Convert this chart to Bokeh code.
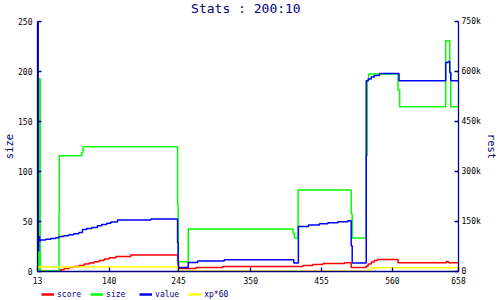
from bokeh.plotting import figure
from bokeh.models import Range1d, LinearAxis, FixedTicker, Legend, LegendItem, Label
from bokeh.layouts import column
from bokeh.embed import file_html
from bokeh.resources import INLINE

# ---- data ----
title_text = "Stats : 200:10"
x_tick_values = [33.8, 140, 243, 350, 455, 560, 658]
x_tick_labels = ["13", "140", "245", "350", "455", "560", "658"]
size_ticks = [0, 50, 100, 150, 200, 250]
rest_ticks = [0, 150000, 300000, 450000, 600000, 750000]
rest_tick_labels = ["0", "150k", "300k", "450k", "600k", "750k"]

score_x = [33.8, 68.2, 73.1, 80.5, 87.9, 95.4, 102.8, 110.2, 117.7, 125.1,
           132.5, 139.9, 149.9, 172.2, 241.5, 243.0, 268.7, 308.4, 427.2, 442.0,
           456.9, 489.0, 498.9, 521.2, 524.1, 528.6, 533.1, 537.6, 568.3, 640.1,
           643.1, 658]
score_y = [0, 1.7, 3, 4, 5, 6, 7.4, 8.4, 9.7, 11,
           12.4, 13.7, 15, 16.4, 10.7, 3, 4, 5, 6, 7,
           8, 8.7, 4, 5.5, 7.5, 9.5, 11, 12, 8.7, 10,
           8.7, 8.7]

size_x = [33.8, 35.5, 37.8, 65.7, 66.0, 99.4, 101.3, 241.5, 242.4, 257.3,
          412.8, 414.7, 420.2, 498.9, 500.4, 521.2, 522.7, 524.6, 568.3, 570.7,
          639.0, 645.0, 646.5, 658]
size_y = [0.5, 192.7, 0.5, 58, 115.7, 119, 124.7, 67, 9.7, 42.4,
          38, 33.4, 81.4, 57.4, 33.4, 115.7, 190.7, 197.4, 181.4, 164.7,
          230.7, 199, 164.7, 164.7]

value_x = [33.8, 34.8, 35.5, 37.0, 38.5, 45.9, 53.4, 60.8, 65.7, 72.7,
           80.1, 87.5, 95.0, 100.4, 106.8, 114.2, 122.7, 129.1, 136.5, 142.5,
           152.4, 201.9, 241.5, 242.4, 257.3, 271.2, 310.7, 413.8, 420.6, 435.5,
           451.8, 464.3, 479.2, 494.0, 498.9, 500.4, 521.2, 524.1, 528.6, 533.1,
           540.9, 569.8, 639.0, 642.6, 645.0, 646.5, 658]
value_y = [780000, 62100, 104100, 92100, 94200, 96600, 99000, 101400, 105000, 107400,
           110400, 113400, 117000, 126000, 129000, 132000, 137100, 141000, 144900, 148200,
           154200, 157200, 87000, 12000, 27000, 31200, 35100, 25200, 135000, 139200,
           143100, 146100, 149100, 152100, 77100, 25200, 572100, 577500, 583500, 588000,
           594000, 572100, 627000, 630000, 597000, 572100, 572100]

xp_x = [33.8, 34.5, 241.5, 523.7, 526.1, 528.6, 658]
xp_y = [0, 4.4, 0.5, 1.5, 2.6, 3.7, 3.7]

series_names = ["score", "size", "value", "xp*60"]
series_colors = ["#FF0000", "#00FF00", "#0000FF", "#FFFF00"]

NAVY = "#000080"
MONO = "DejaVu Sans Mono"


def strip(height):
    s = figure(width=500, height=height, output_backend="svg", toolbar_location=None,
               x_range=Range1d(0, 500), y_range=Range1d(0, height),
               min_border_left=0, min_border_right=0, min_border_top=0, min_border_bottom=0,
               x_axis_location=None, y_axis_location=None)
    s.grid.visible = False
    s.outline_line_color = None
    s.background_fill_color = "white"
    s.border_fill_color = "white"
    return s


# ---- title strip ----
top = strip(16)
top.add_layout(Label(x=247.5, y=8.0, text=title_text, text_align="center",
                     text_baseline="middle", text_font=MONO, text_font_size="13px",
                     text_color=NAVY))

# ---- main chart ----
p = figure(width=500, height=270, output_backend="svg", toolbar_location=None,
           x_range=Range1d(33.8, 658), y_range=Range1d(0, 250),
           min_border_left=37, min_border_right=42, min_border_top=5, min_border_bottom=15)
p.extra_y_ranges = {"rest": Range1d(0, 750000)}
p.grid.visible = False
p.outline_line_color = None
p.background_fill_color = "white"
p.border_fill_color = "white"

raxis = LinearAxis(y_range_name="rest", ticker=FixedTicker(ticks=rest_ticks),
                   major_label_overrides=dict(zip(rest_ticks, rest_tick_labels)),
                   axis_label="rest")
p.add_layout(raxis, "right")

p.xaxis.ticker = FixedTicker(ticks=x_tick_values)
p.xaxis.major_label_overrides = dict(zip(x_tick_values, x_tick_labels))
p.yaxis[0].ticker = FixedTicker(ticks=size_ticks)
p.yaxis[0].axis_label = "size"

for ax in [p.xaxis[0], p.yaxis[0], raxis]:
    ax.axis_line_color = NAVY
    ax.axis_line_width = 1.3
    ax.major_tick_line_color = NAVY
    ax.major_tick_line_width = 1.3
    ax.major_tick_in = 4
    ax.major_tick_out = 0
    ax.minor_tick_line_color = None
    ax.major_label_text_font = MONO
    ax.major_label_text_font_size = "8px"
    ax.major_label_text_color = "black"
    ax.axis_label_text_font = MONO
    ax.axis_label_text_font_size = "10.5px"
    ax.axis_label_text_font_style = "normal"
    ax.axis_label_text_color = NAVY
p.xaxis.major_label_standoff = 5
p.yaxis[0].major_label_standoff = 5
raxis.major_label_standoff = 3
p.yaxis[0].axis_label_standoff = 0
raxis.axis_label_standoff = 2

lw = 1.5
p.step(score_x, score_y, mode="after", line_color=series_colors[0], line_width=lw)
p.step(size_x, size_y, mode="after", line_color=series_colors[1], line_width=lw)
p.step(value_x, value_y, mode="after", line_color=series_colors[2], line_width=lw,
       y_range_name="rest")
p.step(xp_x, xp_y, mode="after", line_color=series_colors[3], line_width=lw)

# ---- legend strip ----
lg = strip(14)
nan = float("nan")
items = []
for name, color in zip(series_names, series_colors):
    proxy = lg.line([nan], [nan], line_color=color, line_width=2.5)
    items.append(LegendItem(label=name, renderers=[proxy]))
legend = Legend(items=items, location=(4, 1.5), orientation="horizontal",
                glyph_width=13, glyph_height=8, label_height=8, label_width=24,
                label_standoff=3, padding=0, margin=0, spacing=9,
                border_line_color=None, background_fill_alpha=0,
                label_text_font=MONO, label_text_font_size="8px",
                label_text_color=NAVY)
lg.add_layout(legend, "center")

layout = column(top, p, lg, spacing=0)
open("out.html", "w").write(file_html(layout, INLINE))
